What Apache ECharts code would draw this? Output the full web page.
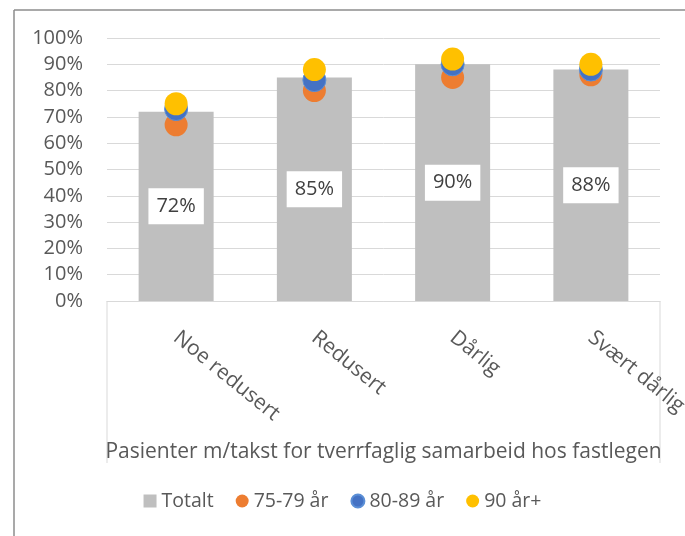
<!DOCTYPE html>
<html>
<head>
<meta charset="utf-8">
<script src="https://cdn.jsdelivr.net/npm/echarts@6/dist/echarts.min.js"></script>
<style>
html,body{margin:0;padding:0;background:#fff;}
#chart{width:685px;height:536px;}
</style>
</head>
<body>
<div id="chart"></div>
<script>
const categories = ['Noe redusert', 'Redusert', 'Dårlig', 'Svært dårlig'];
const totalt = [72, 85, 90, 88];
const age7579 = [67, 80, 85, 86];
const age8089 = [73, 84, 90, 88];
const age90 = [75, 88, 92, 90];
const yTicks = { min: 0, max: 100, interval: 10 };
const axisTitle = 'Pasienter m/takst for tverrfaglig samarbeid hos fastlegen';
const seriesNames = ['Totalt', '75-79 år', '80-89 år', '90 år+'];

const FONT = 'Open Sans';
const TXT = '#595959';
const chart = echarts.init(document.getElementById('chart'), null, { renderer: 'canvas' });

const option = {
  animation: false,
  backgroundColor: '#fff',
  textStyle: { fontFamily: FONT },
  grid: { left: 107, right: 25, top: 38, bottom: 235, containLabel: false, outerBoundsMode: 'none' },
  legend: {
    left: 'center',
    top: 486,
    itemWidth: 13,
    itemHeight: 13,
    itemGap: 22,
    textStyle: { fontFamily: FONT, fontSize: 19.5, color: TXT },
    data: [
      { name: seriesNames[0], icon: 'rect' },
      { name: seriesNames[1], icon: 'circle' },
      { name: seriesNames[2], icon: 'circle' },
      { name: seriesNames[3], icon: 'circle' }
    ]
  },
  xAxis: {
    type: 'category',
    data: categories,
    axisLine: { lineStyle: { color: '#d9d9d9', width: 1 } },
    axisTick: { show: false },
    axisLabel: { rotate: -39, margin: 34, fontFamily: FONT, fontSize: 21, color: TXT, interval: 0 },
    name: axisTitle,
    nameLocation: 'middle',
    nameGap: 141,
    nameTextStyle: { fontFamily: FONT, fontSize: 21, color: TXT }
  },
  yAxis: {
    type: 'value',
    min: yTicks.min, max: yTicks.max, interval: yTicks.interval,
    axisLine: { show: false },
    axisTick: { show: false },
    axisLabel: { formatter: '{value}%', margin: 24, fontFamily: FONT, fontSize: 20, color: TXT },
    splitLine: { lineStyle: { color: '#d9d9d9', width: 1 } }
  },
  graphic: [
    { type: 'line', shape: { x1: 14, y1: 10, x2: 14, y2: 540 }, style: { stroke: '#8c8c8c', lineWidth: 1.5 } },
    { type: 'line', shape: { x1: 14, y1: 10, x2: 690, y2: 10 }, style: { stroke: '#8c8c8c', lineWidth: 1.5 } },
    { type: 'line', shape: { x1: 107, y1: 301, x2: 107, y2: 463 }, style: { stroke: '#d9d9d9', lineWidth: 1 } },
    { type: 'line', shape: { x1: 660, y1: 301, x2: 660, y2: 463 }, style: { stroke: '#d9d9d9', lineWidth: 1 } }
  ],
  series: [
    {
      name: seriesNames[0],
      type: 'bar',
      data: totalt,
      barWidth: 75,
      itemStyle: { color: '#bfbfbf' },
      label: {
        show: true,
        position: 'inside',
        formatter: '{c}%',
        backgroundColor: '#ffffff',
        padding: [8, 8],
        color: '#404040',
        fontFamily: FONT,
        fontSize: 20
      }
    },
    {
      name: seriesNames[1], type: 'scatter', data: age7579, symbolSize: 23,
      itemStyle: { color: '#ed7d31', opacity: 1 }
    },
    {
      name: seriesNames[2], type: 'scatter', data: age8089, symbolSize: 23,
      itemStyle: { color: '#4472c4', borderColor: '#5b8fd6', borderWidth: 1, opacity: 1 }
    },
    {
      name: seriesNames[3], type: 'scatter', data: age90, symbolSize: 23,
      itemStyle: { color: '#ffc000', opacity: 1 }
    }
  ]
};
chart.setOption(option);
</script>
</body>
</html>
